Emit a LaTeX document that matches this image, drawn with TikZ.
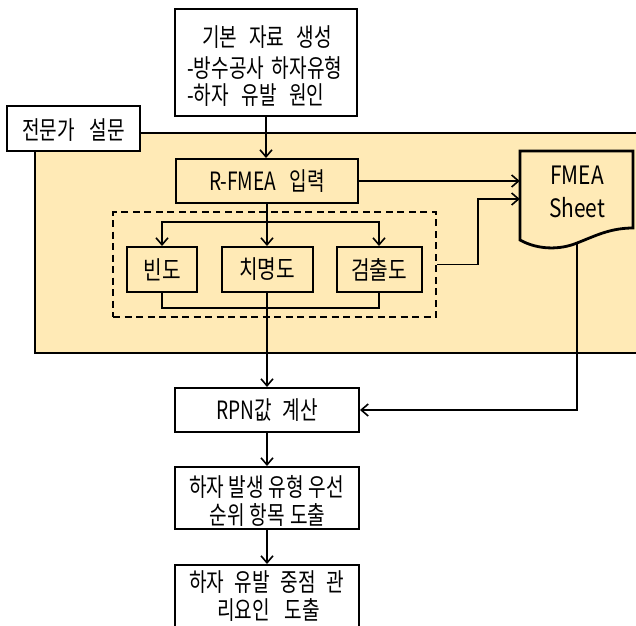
\documentclass[tikz,border=0pt]{standalone}
\usepackage{fontspec}
\setmainfont{Noto Sans CJK KR}
\usetikzlibrary{arrows.meta}
\definecolor{bgyellow}{HTML}{FFEAB6}
\newcommand{\jl}[2]{\scalebox{0.85}[1.12]{\makebox[\dimexpr#1pt*100/85\relax][s]{#2}}}
\newcommand{\nl}[1]{\scalebox{0.9}[1.12]{#1}}
\newcommand{\latl}[1]{\scalebox{0.95}[1.15]{\fontsize{22}{26}\selectfont #1}}
\begin{document}
\begin{tikzpicture}[x=1pt,y=-1pt,
  every node/.style={font=\fontsize{22.5}{27}\selectfont},
  box/.style={draw=black, line width=2pt, inner sep=0pt},
  lbl/.style={inner sep=0pt},
  conn/.style={line width=1.6pt},
  arr/.style={conn,-{Straight Barb[length=7pt,width=12pt,line width=1.6pt]}}]
\useasboundingbox (0,0) rectangle (636,625);
% background region
\node[box, fill=bgyellow, minimum width=610pt, minimum height=220pt] (region) at (340,243) {};
% boxes
\node[box, fill=white, minimum width=133pt, minimum height=45pt] (expert) at (73.5,128.5) {};
\node[lbl] (expertt) at (73.5,130) {\jl{103}{전문가 설문}};
\node[box, fill=white, minimum width=182pt, minimum height=107pt] (top) at (266,62.5) {};
\node[lbl] (t1) at (267,37) {\jl{130}{기본 자료 생성}};
\node[lbl, anchor=west] (t2) at (187,68) {\jl{155}{-방수공사 하자유형}};
\node[lbl, anchor=west] (t3) at (187,95) {\jl{137}{-하자 유발 원인}};
\node[box, fill=bgyellow, minimum width=182pt, minimum height=44pt] (rfmea) at (267,181) {\jl{116}{R-FMEA 입력}};
\node[draw=black, line width=2pt, dash pattern=on 7pt off 4.5pt, minimum width=323pt, minimum height=105pt, inner sep=0pt] (group) at (274.5,264.5) {};
\node[box, fill=bgyellow, minimum width=70pt, minimum height=45pt] (bindo) at (162,269.5) {\nl{빈도}};
\node[box, fill=bgyellow, minimum width=91pt, minimum height=45pt] (chim) at (267,269.5) {\nl{치명도}};
\node[box, fill=bgyellow, minimum width=85pt, minimum height=45pt] (geom) at (379,269.5) {\nl{검출도}};
% FMEA sheet (document shape)
\node[inner sep=0pt, minimum width=113pt, minimum height=89pt] (sheet) at (576.5,195.5) {};
\draw[line width=2.8pt, fill=bgyellow, line join=miter]
  (520,240) -- (520,151) -- (633,151) -- (633,228)
  .. controls (610,228) and (595,236) .. (577,243)
  .. controls (560,250) and (538,250) .. (520,240) -- cycle;
\node[lbl] (fmeat) at (577,175) {\latl{FMEA}};
\node[lbl] (sheett) at (577,208) {\latl{Sheet}};
\coordinate (sb) at (577,243);
\coordinate (j1) at (478,199);
\coordinate (br) at (267,222);
% lower boxes
\node[box, fill=white, minimum width=184pt, minimum height=44pt] (rpn) at (267,410) {\jl{102}{RPN값 계산}};
\node[box, fill=white, minimum width=184pt, minimum height=62pt] (prio) at (267,498) {};
\node[lbl] (p1) at (266.5,487) {\jl{155}{하자 발생 유형 우선}};
\node[lbl] (p2) at (267.5,515) {\jl{116}{순위 항목 도출}};
\node[box, fill=white, minimum width=184pt, minimum height=75pt] (key) at (267,602.5) {};
\node[lbl] (k1) at (266.5,582) {\jl{155}{하자 유발 중점 관}};
\node[lbl] (k2) at (268.5,610) {\jl{103}{리요인 도출}};
% connectors
\draw[arr] (top.south) -- (top.south |- rfmea.north);
\draw[arr] (rfmea.south) -- (chim.north);
\draw[arr] (br) -| (bindo.north);
\draw[arr] (br) -| (geom.north);
\draw[conn] (bindo.south) -- ++(0,15) -| (geom.south);
\draw[arr] (chim.south) -- (rpn.north);
\draw[arr] (rfmea.east) -- (rfmea.east -| sheet.west);
\draw[arr] (group.east) -- (group.east -| j1) -- (j1) -- (j1 -| sheet.west);
\draw[arr] (sb) |- (rpn.east);
\draw[arr] (rpn.south) -- (prio.north);
\draw[arr] (prio.south) -- (key.north);
\end{tikzpicture}
\end{document}
